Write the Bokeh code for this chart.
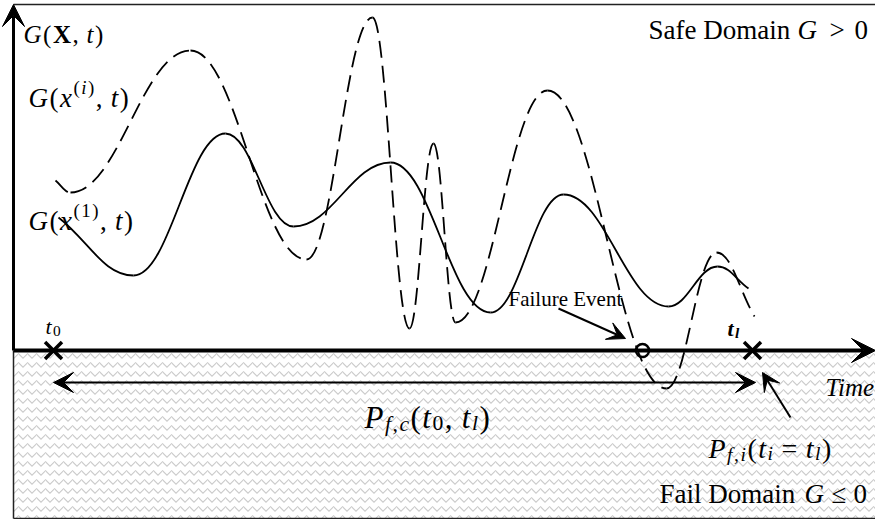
from bokeh.plotting import figure
from bokeh.models import Range1d, Label, Arrow, VeeHead
from bokeh.embed import file_html
from bokeh.resources import INLINE

# ---------------- data (t = time position, G = limit-state value) ----------------
# solid curve G(x^(1), t): start, successive extrema, end
solid_t = [58, 133, 225, 293, 390, 490, 563, 668, 717, 748]
solid_g = [133, 75, 217, 124, 188, 38, 156, 44, 84, 62]
# dashed curve G(x^(i), t)
dash_t = [55, 70, 190, 306, 372, 409, 433, 455, 547, 666, 716, 754]
dash_g = [170, 158, 300, 91, 333, 22, 207, 28, 260, -38, 98, 34]

# time instants marked with crosses (t0, tl)
mark_t = [53, 752]
mark_g = [0, 0]
# failure event (first crossing of dashed curve)
fail_t = [642]
fail_g = [0]

# domain extents
T_MIN, T_MAX = 13, 875
G_MIN, G_MAX = -168, 346
ARROW_G = -32          # level of the P_f,c double arrow

FONT = "'Liberation Serif', 'Times New Roman', 'DejaVu Serif', serif"

p = figure(width=875, height=519, x_range=Range1d(0, 875), y_range=Range1d(-169, 350),
           output_backend="svg", toolbar_location=None, min_border=0,
           x_axis_type=None, y_axis_type=None)
p.grid.visible = False
p.outline_line_color = None
p.background_fill_color = "white"
p.border_fill_color = "white"

# fail domain with wavy hatch
p.quad(left=[T_MIN], right=[T_MAX], bottom=[G_MIN], top=[0], fill_color="white",
       line_color=None, hatch_pattern="horizontal_wave", hatch_color="#cbcbcb",
       hatch_scale=9, hatch_weight=1.1)

# frame
p.line([T_MIN, T_MAX], [G_MAX, G_MAX], line_color="#222222", line_width=1.5)
p.line([T_MIN, T_MAX], [G_MIN, G_MIN], line_color="#222222", line_width=1.5)
p.line([T_MIN, T_MIN], [G_MIN, 0], line_color="#222222", line_width=1.5)


def bez_parts(ts, gs, k=0.4):
    n = len(ts)
    x0, y0, x1, y1, cx0, cy0, cx1, cy1 = [], [], [], [], [], [], [], []
    for i in range(n - 1):
        a, b = ts[i], ts[i + 1]
        ga, gb = gs[i], gs[i + 1]
        dx = b - a
        x0.append(a); y0.append(ga); x1.append(b); y1.append(gb)
        cx0.append(a + dx * k)
        cy0.append(ga + (gb - ga) * k if i == 0 else ga)
        cx1.append(b - dx * k)
        cy1.append(gb - (gb - ga) * k if i == n - 2 else gb)
    return dict(x0=x0, y0=y0, x1=x1, y1=y1, cx0=cx0, cy0=cy0, cx1=cx1, cy1=cy1)


p.bezier(**bez_parts(solid_t, solid_g), line_color="black", line_width=1.8)
p.bezier(**bez_parts(dash_t, dash_g), line_color="black", line_width=1.8, line_dash="17 8")

# axes
p.add_layout(Arrow(x_start=T_MIN, y_start=0, x_end=T_MAX, y_end=0, line_width=4,
                   line_color="black",
                   end=VeeHead(size=24, fill_color="black", line_color="black", line_width=1)))
p.line([T_MIN, T_MAX - 20], [0, 0], line_color="#9a9a9a", line_width=1)
p.add_layout(Arrow(x_start=T_MIN, y_start=0, x_end=T_MIN, y_end=G_MAX, line_width=3,
                   line_color="black",
                   end=VeeHead(size=22, fill_color="black", line_color="black", line_width=1)))

# P_f,c double arrow
p.add_layout(Arrow(x_start=mark_t[0], y_start=ARROW_G, x_end=755, y_end=ARROW_G, line_width=2,
                   line_color="black",
                   start=VeeHead(size=20, fill_color="black", line_color="black", line_width=1),
                   end=VeeHead(size=20, fill_color="black", line_color="black", line_width=1)))
# failure event pointer
p.add_layout(Arrow(x_start=558, y_start=42, x_end=625, y_end=12, line_width=2,
                   line_color="black",
                   end=VeeHead(size=18, fill_color="black", line_color="black", line_width=1)))
# P_f,i pointer
p.add_layout(Arrow(x_start=790, y_start=-67, x_end=762, y_end=-22, line_width=2,
                   line_color="black",
                   end=VeeHead(size=18, fill_color="black", line_color="black", line_width=1)))

# markers
p.scatter(mark_t, mark_g, marker="x", size=24, line_color="black", line_width=3.5)
p.scatter(fail_t, fail_g, marker="circle", size=13, fill_color=None, line_color="black",
          line_width=2.5)

# ---------------- texts ----------------
W = {
    "normal": {"(": 333, ")": 333, ",": 250, " ": 250, "=": 564, "0": 500, "1": 500,
               ">": 564, "\u2264": 549},
    "italic": {"G": 722, "X": 611, "x": 444, "t": 278, "P": 611, "f": 278, "c": 444,
               "i": 278, "l": 278, " ": 250},
    "bold": {"X": 722},
    "bold italic": {"t": 278, "l": 278},
}


def lab(x, g, txt, size, style="normal"):
    p.add_layout(Label(x=x, y=g, text=txt, text_font=FONT, text_font_style=style,
                       text_font_size=f"{size:.1f}px", text_align="left",
                       text_baseline="alphabetic", text_color="black"))


def put(x, g, runs, size):
    cx = x
    for txt, style, scale, dy in runs:
        s = size * scale
        core = txt.strip(" ")
        lead = len(txt) - len(txt.lstrip(" "))
        trail = len(txt) - len(txt.rstrip(" ")) if core else 0
        cx += lead * 250 / 1000 * s
        lab(cx, g + dy, core, s, style)
        cx += sum(W.get(style, {}).get(ch, 500) for ch in core) / 1000 * s
        cx += trail * 250 / 1000 * s + 1.5


N, I = "normal", "italic"
put(23, 316, [("G", I, 1, 0), ("(", N, 1, 0), ("X", "bold", 1, 0), (",", N, 1, 0),
              (" t", I, 1, 0), (")", N, 1, 0)], 25)
put(28, 253, [("G", I, 1, 0), ("(", N, 1, 0), ("x", I, 1, 0), ("(", N, .7, 10),
              ("i", I, .7, 10), (")", N, .7, 10), (",", N, 1, 0), (" t", I, 1, 0),
              (")", N, 1, 0)], 27)
put(28, 130, [("G", I, 1, 0), ("(", N, 1, 0), ("x", I, 1, 0), ("(", N, .7, 10),
              ("1", N, .7, 10), (")", N, .7, 10), (",", N, 1, 0), (" t", I, 1, 0),
              (")", N, 1, 0)], 27)

# domain labels
lab(648, 321, "Safe Domain", 27)
lab(797, 321, "G", 27, I)
lab(829, 321, ">", 27)
lab(854, 321, "0", 27)
lab(659, -143, "Fail Domain", 27)
lab(804, -143, "G", 27, I)
lab(831, -143, "\u2264", 27)
lab(853, -143, "0", 27)

lab(825, -37, "Time", 25, I)
lab(508, 52, "Failure Event", 21)

put(45, 24, [("t", I, 1, 0), ("0", N, .7, -4)], 22)
put(727, 22, [("t", "bold italic", 1, 0), ("l", "bold italic", .7, -4)], 22)

put(364, -67, [("P", I, 1, 0), ("f", I, .7, -6), (",", N, .7, -6), ("c", I, .7, -6),
               ("(", N, 1, 0), ("t", I, 1, 0), ("0", N, .7, -5), (",", N, 1, 0),
               (" t", I, 1, 0), ("l", I, .7, -5), (")", N, 1, 0)], 31)
put(708, -98, [("P", I, 1, 0), ("f", I, .7, -6), (",", N, .7, -6), ("i", I, .7, -6),
               ("(", N, 1, 0), ("t", I, 1, 0), ("i", I, .7, -5), (" = ", N, 1, 0),
               ("t", I, 1, 0), ("l", I, .7, -5), (")", N, 1, 0)], 28)

open("out.html", "w").write(file_html(p, INLINE))
